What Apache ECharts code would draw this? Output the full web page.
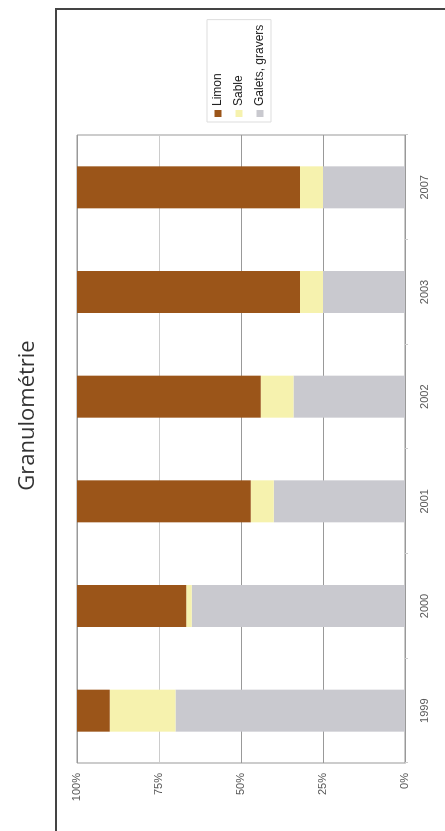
<!DOCTYPE html>
<html>
<head>
<meta charset="utf-8">
<script src="https://cdn.jsdelivr.net/npm/echarts@6/dist/echarts.min.js"></script>
<style>
html,body{margin:0;padding:0;background:#fff;overflow:hidden;width:445px;height:831px;}
#chart{position:absolute;left:0;top:0;width:831px;height:445px;transform-origin:0 0;transform:translateY(831px) rotate(-90deg);}
</style>
</head>
<body>
<div id="chart"></div>
<script>
const years = ['1999','2000','2001','2002','2003','2007'];
const galets = [70, 65, 40, 34, 25, 25];
const sable = [20, 1.7, 7, 10, 7, 7];
const limon = [10, 33.3, 53, 56, 68, 68];
const valueTicks = [0, 25, 50, 75, 100];
const titleText = 'Granulométrie';
const names = ['Limon', 'Sable', 'Galets, gravers'];

const chart = echarts.init(document.getElementById('chart'), null, {renderer: 'canvas'});
chart.setOption({
  animation: false,
  backgroundColor: '#fff',
  title: {
    text: titleText,
    left: 'center',
    top: 12,
    padding: [5, 14, 5, 5],
    textStyle: {fontFamily: 'Open Sans', fontWeight: 'normal', fontSize: 22, color: '#333'}
  },
  legend: {
    orient: 'vertical',
    left: 709,
    top: 207,
    padding: [5, 5, 5, 5],
    itemWidth: 7,
    itemHeight: 7,
    itemGap: 9,
    borderColor: '#ddd',
    borderWidth: 1,
    icon: 'rect',
    data: names,
    textStyle: {fontFamily: 'Liberation Sans', fontSize: 12, color: '#222', padding: [0, 0, 0, -1]}
  },
  graphic: [{
    type: 'polyline',
    shape: {points: [[0, 56], [822, 56], [822, 445]]},
    style: {stroke: '#444', lineWidth: 2, fill: null}
  }],
  grid: {left: 68, right: 135, top: 77, bottom: 40, show: true, borderColor: '#999', borderWidth: 1},
  xAxis: {
    type: 'category',
    data: years,
    axisLine: {lineStyle: {color: '#999'}},
    axisTick: {show: true, length: 3, lineStyle: {color: '#ccc'}},
    axisLabel: {fontFamily: 'Liberation Sans', fontSize: 11, color: '#555', margin: 14}
  },
  yAxis: {
    type: 'value',
    min: valueTicks[0],
    max: valueTicks[valueTicks.length - 1],
    interval: 25,
    axisLine: {show: false},
    axisTick: {show: false},
    splitLine: {lineStyle: {color: ['#999', '#999', '#999', '#ccc', '#999'], width: 1}},
    axisLabel: {formatter: '{value}%', fontFamily: 'Liberation Sans', fontSize: 11, color: '#555', margin: 10}
  },
  series: [
    {name: 'Galets, gravers', type: 'bar', stack: 's', data: galets, barWidth: 42, itemStyle: {color: '#C9C9CF'}},
    {name: 'Sable', type: 'bar', stack: 's', data: sable, barWidth: 42, itemStyle: {color: '#F6F2AE'}},
    {name: 'Limon', type: 'bar', stack: 's', data: limon, barWidth: 42, itemStyle: {color: '#9B5519'}}
  ]
});
</script>
</body>
</html>
